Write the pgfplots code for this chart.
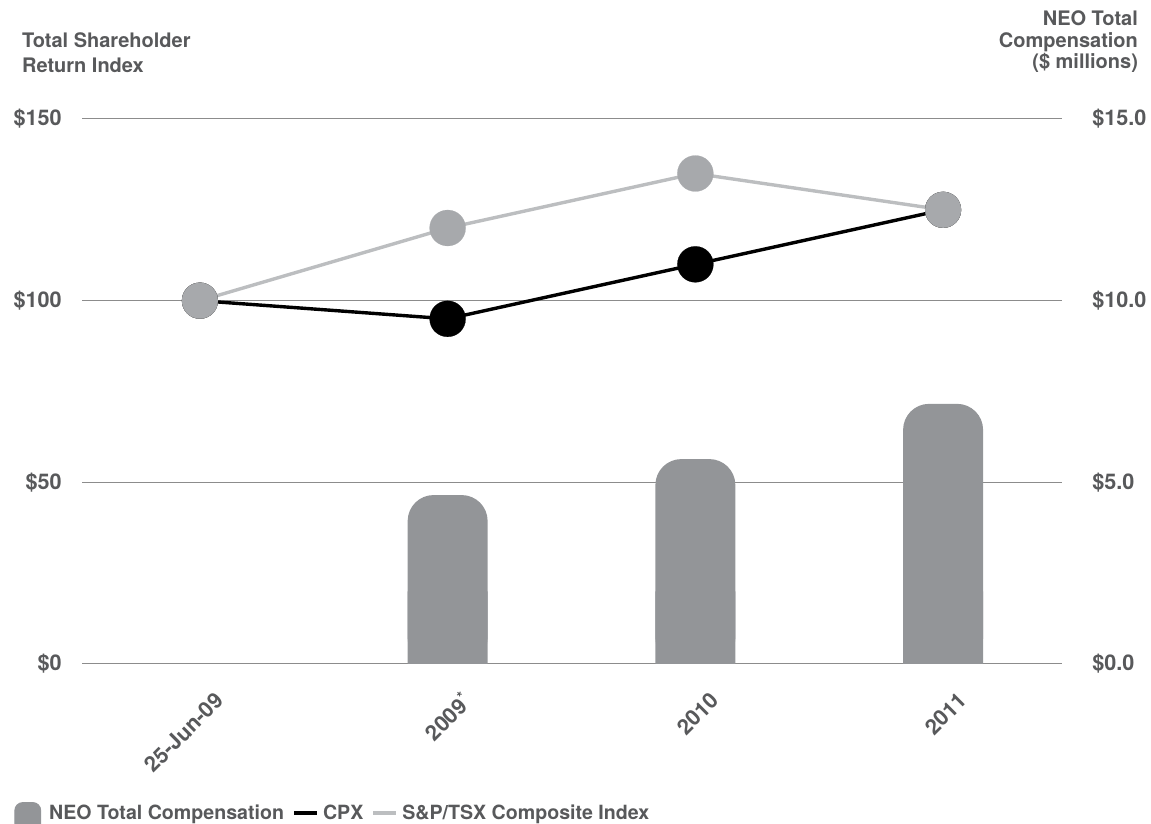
\documentclass[border=0pt]{standalone}
\usepackage{pgfplots}
\pgfplotsset{compat=1.18}
\usepackage{fontspec}
\setmainfont{TeX Gyre Heros}
\definecolor{txt}{HTML}{58595B}
\definecolor{barc}{HTML}{939598}
\definecolor{spl}{HTML}{BCBEC0}
\definecolor{spm}{HTML}{A7A9AC}
\definecolor{gridc}{HTML}{8C8C8C}
\begin{document}
\begin{tikzpicture}[font=\bfseries\fontsize{10}{12}\selectfont, text=txt]
\useasboundingbox (-41pt,-80pt) rectangle (534.5pt,332pt);
\pgfplotsset{base/.style={
  at={(0,0)}, anchor=south west, scale only axis,
  width=490pt, height=272.5pt,
  xmin=-0.476, xmax=3.48,
  axis line style={draw=none}, major tick length=0pt,
  tick label style={font=\bfseries\fontsize{10.8}{12}\selectfont, text=txt},
}}
% bars (right axis, $ millions)
\begin{axis}[base, ymin=0, ymax=15,
  ytick={0,5,10,15}, yticklabels={\$0.0,\$5.0,\$10.0,\$15.0},
  yticklabel pos=right,
  yticklabel style={anchor=west, inner sep=0pt, xshift=15pt},
  ymajorgrids, grid style={gridc, line width=0.5pt},
  xtick=\empty]
\addplot[ybar, bar width=40pt, bar shift=0pt, fill=barc, draw=none, rounded corners=13pt]
  coordinates {(1,4.65) (2,5.64) (3,7.16)};
\addplot[ybar, bar width=40pt, bar shift=0pt, fill=barc, draw=none]
  coordinates {(1,2) (2,2) (3,2)};
\end{axis}
% lines (left axis, TSR index)
\begin{axis}[base, ymin=0, ymax=150,
  ytick={0,50,100,150}, yticklabels={\$0,\$50,\$100,\$150},
  yticklabel style={anchor=east, inner sep=0pt, xshift=-10pt},
  xtick={0,1,2,3},
  xticklabels={25-Jun-09,2009\textsuperscript{*},2010,2011},
  xticklabel style={rotate=45, anchor=east, inner sep=0pt, xshift=-4.5pt, yshift=-18.5pt},
  legend columns=-1,
  legend style={draw=none, fill=none, inner sep=0pt,
    at={(axis description cs:-0.0694,-0.2743)}, anchor=west,
    font=\bfseries\fontsize{9.8}{12}\selectfont, text=txt,
    /tikz/every even column/.append style={column sep=2pt}},
]
\addlegendimage{legend image code/.code={\fill[barc] (0pt,-5pt) -- (0pt,1.5pt) arc[start angle=180,end angle=90,radius=4pt] -- (9pt,5.5pt) arc[start angle=90,end angle=0,radius=4pt] -- (13pt,-5pt) -- cycle;}}
\addlegendentry{\hspace{2pt}NEO Total Compensation}
\addplot[black, line width=1.7pt, mark=*, mark size=9pt, mark options={fill=black, draw=black, line width=0.1pt},
  legend image code/.code={\draw[black, line width=2pt] (0pt,0pt) -- (11.5pt,0pt);}]
  coordinates {(0,100) (1,95) (2,110) (3,125)};
\addlegendentry{CPX}
\addplot[spl, line width=1.7pt, mark=*, mark size=9pt, mark options={fill=spm, draw=spm, line width=0.1pt},
  legend image code/.code={\draw[spl, line width=2pt] (0pt,0pt) -- (11.5pt,0pt);}]
  coordinates {(0,100) (1,120) (2,135) (3,125)};
\addlegendentry{S\&P/TSX Composite Index}
\end{axis}
% axis titles
\node[anchor=base west] at (-33.5pt,308pt) {Total Shareholder};
\node[anchor=base west] at (-33.5pt,295.5pt) {Return Index};
\node[anchor=base east] at (531.5pt,319pt) {NEO Total};
\node[anchor=base east] at (531.5pt,308pt) {Compensation};
\node[anchor=base east] at (531.5pt,297.5pt) {(\$ millions)};
\end{tikzpicture}
\end{document}
